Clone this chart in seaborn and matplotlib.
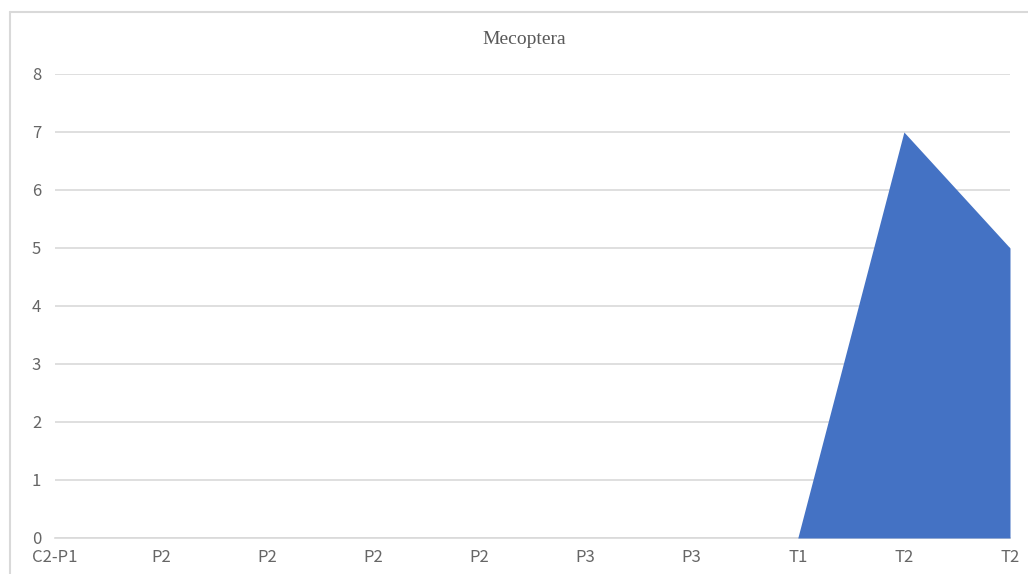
import matplotlib
matplotlib.use('Agg')
import matplotlib.pyplot as plt
import seaborn as sns
import pandas as pd
from matplotlib.lines import Line2D

# Data
categories = ['C2-P1', 'P2', 'P2', 'P2', 'P2', 'P3', 'P3', 'T1', 'T2', 'T2']
counts = [0, 0, 0, 0, 0, 0, 0, 0, 7, 5]

df = pd.DataFrame({'pos': range(len(categories)), 'label': categories, 'count': counts})

sns.set_style('white')
plt.rcParams['font.family'] = ['Noto Sans CJK SC', 'DejaVu Sans']

fig = plt.figure(figsize=(10.28, 5.74), dpi=100)
ax = fig.add_axes([55 / 1028, 1 - 538 / 574, (1010 - 55) / 1028, (538 - 74) / 574])

sns.lineplot(data=df, x='pos', y='count', ax=ax, color='#4472C4', linewidth=0)
ax.fill_between(df['pos'], df['count'], color='#4472C4', linewidth=0, zorder=3)

ax.set_xlim(0, len(categories) - 1)
ax.set_ylim(0, 8)
ax.set_xticks(df['pos'])
ax.set_xticklabels(categories)
ax.set_yticks(range(0, 9))
ax.set_xlabel('')
ax.set_ylabel('')

ax.grid(axis='y', color='#D9D9D9', linewidth=1.2)
ax.set_axisbelow(True)
for s in ['top', 'right', 'left']:
    ax.spines[s].set_visible(False)
ax.spines['bottom'].set_color('#D9D9D9')
ax.spines['bottom'].set_linewidth(1.2)
ax.spines['bottom'].set_zorder(1)

ax.tick_params(axis='x', colors='#666666', labelsize=12, length=5, width=1.2,
               direction='out', pad=3, color='#D9D9D9')
ax.tick_params(axis='y', colors='#666666', labelsize=12, length=0, pad=10)
for t in ax.get_xticklabels():
    t.set_color('#666666')

fig.text(524 / 1028, 1 - 40 / 574, 'Mecoptera', ha='center', va='center',
         fontsize=14, color='#595959', family=['Liberation Serif', 'DejaVu Serif'])

# chart frame (left and top edges visible in the reference)
fig.add_artist(Line2D([10 / 1028, 10 / 1028], [0, 1 - 12 / 574], color='#D9D9D9',
                      linewidth=1.5, transform=fig.transFigure))
fig.add_artist(Line2D([10 / 1028, 1], [1 - 12 / 574, 1 - 12 / 574], color='#D9D9D9',
                      linewidth=1.5, transform=fig.transFigure))

fig.savefig('out.png', dpi=100)
